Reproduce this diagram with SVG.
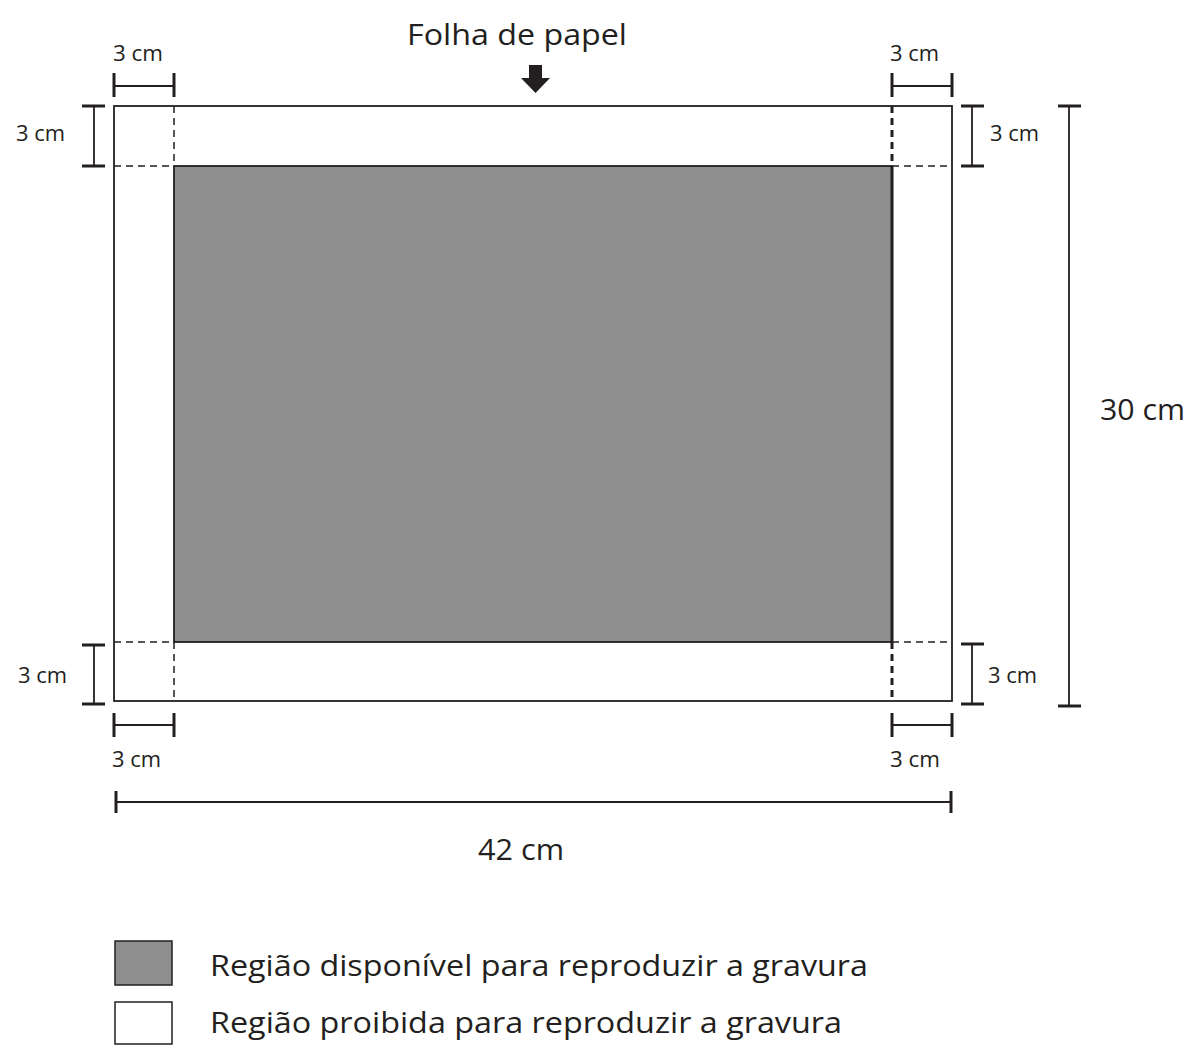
<svg xmlns="http://www.w3.org/2000/svg" width="1200" height="1057" viewBox="0 0 1200 1057">
<style>
text{font-family:"Open Sans","Noto Sans","Liberation Sans",sans-serif;fill:#231f20}
.s{font-size:21px}
.m{font-size:29px}
.l{font-size:30px}
.dim{stroke:#231f20;stroke-width:1.8;fill:none}
.tick{stroke:#231f20;stroke-width:3;fill:none}
.dash{stroke:#231f20;stroke-width:1.5;stroke-dasharray:7,5;fill:none}
.dashb{stroke:#231f20;stroke-width:3;stroke-dasharray:7,5;fill:none}
</style>
<rect width="1200" height="1057" fill="#fff"/>
<g id="sheet">
<rect x="114" y="106" width="838" height="595" fill="#fff" stroke="#231f20" stroke-width="1.8"/>
</g>
<g id="region">
<rect x="174" y="166" width="718" height="476" fill="#8f8e8e" stroke="#231f20" stroke-width="1.8"/>
<line x1="892" y1="166" x2="892" y2="642" stroke="#231f20" stroke-width="3"/>
</g>
<g id="connectors">
<line class="dash" x1="174" y1="106" x2="174" y2="166"/>
<line class="dash" x1="114" y1="166" x2="174" y2="166"/>
<line class="dash" x1="174" y1="642" x2="174" y2="701"/>
<line class="dash" x1="114" y1="642" x2="174" y2="642"/>
<line class="dashb" x1="892" y1="106" x2="892" y2="166"/>
<line class="dash" x1="892" y1="166" x2="952" y2="166"/>
<line class="dashb" x1="892" y1="642" x2="892" y2="701"/>
<line class="dash" x1="892" y1="642" x2="952" y2="642"/>
<line class="dim" x1="114" y1="86" x2="174" y2="86"/>
<line class="tick" x1="114" y1="73" x2="114" y2="97"/>
<line class="tick" x1="174" y1="73" x2="174" y2="97"/>
<line class="dim" x1="892" y1="86" x2="952" y2="86"/>
<line class="tick" x1="892" y1="73" x2="892" y2="97"/>
<line class="tick" x1="952" y1="73" x2="952" y2="97"/>
<line class="dim" x1="94" y1="106" x2="94" y2="166"/>
<line class="tick" x1="82" y1="106" x2="105" y2="106"/>
<line class="tick" x1="82" y1="166" x2="105" y2="166"/>
<line class="dim" x1="972" y1="106" x2="972" y2="166"/>
<line class="tick" x1="961" y1="106" x2="984" y2="106"/>
<line class="tick" x1="961" y1="166" x2="984" y2="166"/>
<line class="dim" x1="94" y1="645" x2="94" y2="704"/>
<line class="tick" x1="82" y1="645" x2="105" y2="645"/>
<line class="tick" x1="82" y1="704" x2="105" y2="704"/>
<line class="dim" x1="972" y1="644" x2="972" y2="704"/>
<line class="tick" x1="961" y1="644" x2="984" y2="644"/>
<line class="tick" x1="961" y1="704" x2="984" y2="704"/>
<line class="dim" x1="114" y1="725" x2="174" y2="725"/>
<line class="tick" x1="114" y1="713" x2="114" y2="737"/>
<line class="tick" x1="174" y1="713" x2="174" y2="737"/>
<line class="dim" x1="892" y1="725" x2="952" y2="725"/>
<line class="tick" x1="892" y1="713" x2="892" y2="737"/>
<line class="tick" x1="952" y1="713" x2="952" y2="737"/>
<line class="dim" x1="1069" y1="106" x2="1069" y2="706"/>
<line class="tick" x1="1058" y1="106" x2="1081" y2="106"/>
<line class="tick" x1="1058" y1="706" x2="1081" y2="706"/>
<line class="dim" x1="116" y1="802" x2="951" y2="802"/>
<line class="tick" x1="116" y1="791" x2="116" y2="813"/>
<line class="tick" x1="951" y1="791" x2="951" y2="813"/>
<polygon points="529,65 542,65 542,78 550,78 535.5,93 521,78 529,78" fill="#231f20"/>
</g>
<g id="labels">
<text class="m" x="407" y="45" textLength="220" lengthAdjust="spacingAndGlyphs">Folha de papel</text>
<text class="s" x="113" y="61" textLength="50" lengthAdjust="spacingAndGlyphs">3 cm</text>
<text class="s" x="890" y="61" textLength="49" lengthAdjust="spacingAndGlyphs">3 cm</text>
<text class="s" x="16" y="141" textLength="49" lengthAdjust="spacingAndGlyphs">3 cm</text>
<text class="s" x="990" y="141" textLength="49" lengthAdjust="spacingAndGlyphs">3 cm</text>
<text class="s" x="18" y="683" textLength="49" lengthAdjust="spacingAndGlyphs">3 cm</text>
<text class="s" x="988" y="683" textLength="49" lengthAdjust="spacingAndGlyphs">3 cm</text>
<text class="s" x="112" y="767" textLength="49" lengthAdjust="spacingAndGlyphs">3 cm</text>
<text class="s" x="890" y="767" textLength="50" lengthAdjust="spacingAndGlyphs">3 cm</text>
<text class="l" x="1100" y="420" textLength="85" lengthAdjust="spacingAndGlyphs">30 cm</text>
<text class="l" x="478" y="860" textLength="86" lengthAdjust="spacingAndGlyphs">42 cm</text>
</g>
<g id="legend">
<rect x="115" y="941" width="57" height="44" fill="#8f8e8e" stroke="#231f20" stroke-width="1.5"/>
<rect x="115" y="1002" width="57" height="42" fill="#fff" stroke="#231f20" stroke-width="1.5"/>
<text class="l" x="210" y="976" textLength="658" lengthAdjust="spacingAndGlyphs">Região disponível para reproduzir a gravura</text>
<text class="l" x="210" y="1033" textLength="632" lengthAdjust="spacingAndGlyphs">Região proibida para reproduzir a gravura</text>
</g>
</svg>
